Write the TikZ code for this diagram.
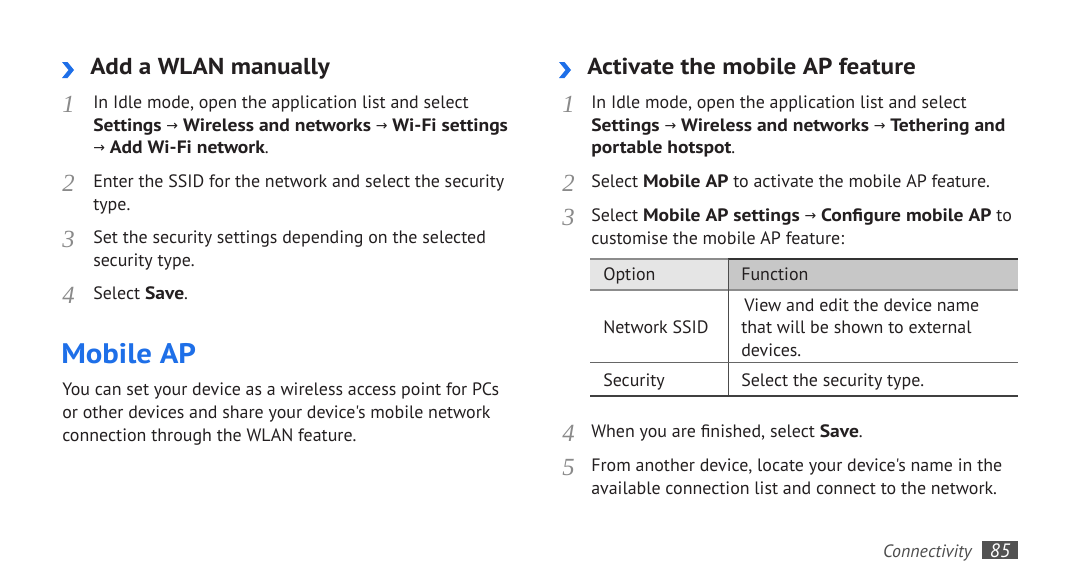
\documentclass[tikz,border=0pt]{standalone}
\usepackage{fontspec}
\setmainfont{PT Sans}[Ligatures=TeXOff,BoldFeatures={FakeStretch=1.09}]
\newfontfamily\arr{DejaVu Sans}
\newfontfamily\numf{Liberation Serif}
\definecolor{txt}{HTML}{231F20}
\definecolor{blu}{HTML}{1E6FE8}
\definecolor{numg}{HTML}{8A8A8A}
\newcommand{\ar}{{\arr\fontsize{10.5}{10}\selectfont\raisebox{0.5pt}{→}}}
\begin{document}
\begin{tikzpicture}[x=0.75pt,y=-0.75pt,
  t/.style={anchor=base west,inner sep=0,text=txt,font=\fontsize{13.45}{15}\selectfont},
  num/.style={anchor=base west,inner sep=0,text=numg,font=\numf\itshape\fontsize{18.5}{18}\selectfont},
  head/.style={anchor=base west,inner sep=0,text=txt,font=\bfseries\fontsize{17.3}{20}\selectfont},
  chev/.style={fill=blu,draw=none}]
\useasboundingbox (0,0) rectangle (1080,586);
\fill[white] (0,0) rectangle (1080,586);
% ---------- left column ----------
\fill[chev] (62,62) -- (67.5,62) -- (74,70) -- (67.5,78) -- (62,78) -- (68.5,70) -- cycle;
\node[head] (h1) at (90,74) {Add a WLAN manually};
\node[num] (n1) at (62,112) {1};
\node[t] (a1) at (93,108) {In Idle mode, open the application list and select};
\node[t] (a2) at (93,131) {\textbf{Settings} \ar{} \textbf{Wireless and networks} \ar{} \textbf{Wi-Fi settings}};
\node[t] (a3) at (93,153) {\ar{} \textbf{Add Wi-Fi network}.};
\node[num] (n2) at (62,191) {2};
\node[t] (b1) at (93,187) {Enter the SSID for the network and select the security};
\node[t] (b2) at (93,210) {type.};
\node[num] (n3) at (62,247) {3};
\node[t] (c1) at (93,243) {Set the security settings depending on the selected};
\node[t] (c2) at (93,266) {security type.};
\node[num] (n4) at (62,303) {4};
\node[t] (d1) at (93,299) {Select \textbf{Save}.};
\node[anchor=base west,inner sep=0,text=blu,font=\bfseries\fontsize{21.2}{26}\selectfont] (mob) at (61,363) {Mobile AP};
\node[t] (p1) at (62,395) {You can set your device as a wireless access point for PCs};
\node[t] (p2) at (62,418) {or other devices and share your device's mobile network};
\node[t] (p3) at (62,441) {connection through the WLAN feature.};
% ---------- right column ----------
\fill[chev] (559,62) -- (564.5,62) -- (571,70) -- (564.5,78) -- (559,78) -- (565.5,70) -- cycle;
\node[head] (h2) at (587,74) {Activate the mobile AP feature};
\node[num] (m1) at (562,112) {1};
\node[t] (e1) at (591,108) {In Idle mode, open the application list and select};
\node[t] (e2) at (591,131) {\textbf{Settings} \ar{} \textbf{Wireless and networks} \ar{} \textbf{Tethering and}};
\node[t] (e3) at (591,153) {\textbf{portable hotspot}.};
\node[num] (m2) at (562,191) {2};
\node[t] (f1) at (591,187) {Select \textbf{Mobile AP} to activate the mobile AP feature.};
\node[num] (m3) at (562,225) {3};
\node[t] (g1) at (591,221) {Select \textbf{Mobile AP settings} \ar{} \textbf{Configure mobile AP} to};
\node[t] (g2) at (591,244) {customise the mobile AP feature:};
% table
\fill[black!10] (590,259) rectangle (728,289);
\fill[black!22] (728,259) rectangle (1018,289);
\draw[black!45,line width=0.9pt] (590,259) -- (728,259);
\draw[black!80,line width=1.5pt] (728,259) -- (1018,259);
\draw[black!45,line width=1.2pt] (590,290) -- (1018,290);
\draw[black!70,line width=0.7pt] (728,259) -- (728,396);
\draw[black!60,line width=0.7pt] (590,362) -- (1018,362);
\draw[black!75,line width=1.5pt] (590,395.5) -- (1018,395.5);
\node[t] (th1) at (603,280) {Option};
\node[t] (th2) at (741,280) {Function};
\node[t] (r1a) at (603,333) {Network SSID};
\node[t] (r1b) at (741,311) {\,View and edit the device name};
\node[t] (r1c) at (741,333) {that will be shown to external};
\node[t] (r1d) at (741,356) {devices.};
\node[t] (r2a) at (603,386) {Security};
\node[t] (r2b) at (741,386) {Select the security type.};
\node[num] (m4) at (562,441) {4};
\node[t] (k1) at (591,437) {When you are finished, select \textbf{Save}.};
\node[num] (m5) at (562,475) {5};
\node[t] (l1) at (591,471) {From another device, locate your device's name in the};
\node[t] (l2) at (591,494) {available connection list and connect to the network.};
% footer
\node[anchor=base east,inner sep=0,text=black!70,font=\itshape\fontsize{13.4}{14}\selectfont] (conn) at (972,557) {Connectivity};
\fill[black!68] (982,541) rectangle (1018,559);
\node[anchor=base,inner sep=0,text=white,font=\itshape\fontsize{14.5}{14}\selectfont] (pg) at (1000,557) {85};
\end{tikzpicture}
\end{document}
